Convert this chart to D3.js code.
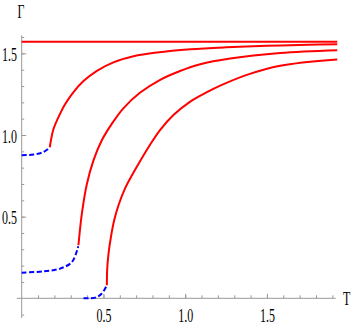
<!DOCTYPE html>
<html>
<head>
<meta charset="utf-8">
<script src="https://cdn.jsdelivr.net/npm/d3@7"></script>
<style>
  body { margin: 0; background: #fff; }
  svg { display: block; }
  text { font-family: "Liberation Serif", "DejaVu Serif", serif; }
</style>
</head>
<body>
<div id="chart"></div>
<script>
// values
var flatT = [0, 1.93],
    flatG = [1.5708, 1.5708];

var blue1T = [0, 0.072, 0.133, 0.170],
    blue1G = [0.876, 0.880, 0.896, 0.922];
var red1T = [0.172, 0.194, 0.235, 0.266, 0.317, 0.378, 0.460, 0.561, 0.684, 0.827, 1.031, 1.25, 1.50, 1.75, 1.93],
    red1G = [0.925, 1.035, 1.131, 1.190, 1.263, 1.330, 1.393, 1.445, 1.482, 1.505, 1.525, 1.537, 1.546, 1.552, 1.556];

var blue2T = [0, 0.133, 0.235, 0.307, 0.346],
    blue2G = [0.157, 0.165, 0.182, 0.222, 0.318];
var red2T = [0.347, 0.368, 0.399, 0.439, 0.490, 0.552, 0.623, 0.725, 0.847, 0.969, 1.092, 1.275, 1.581, 1.93],
    red2G = [0.325, 0.519, 0.702, 0.845, 0.968, 1.070, 1.165, 1.260, 1.338, 1.392, 1.433, 1.468, 1.502, 1.519];

var blue3T = [0.378, 0.45, 0.49, 0.521],
    blue3G = [0, 0.004, 0.029, 0.08];
var red3T = [0.521, 0.523, 0.531, 0.546, 0.566, 0.592, 0.633, 0.678, 0.723, 0.785, 0.846, 0.928, 1.031, 1.133, 1.214, 1.377, 1.581, 1.93],
    red3G = [0.08, 0.18, 0.274, 0.377, 0.479, 0.570, 0.675, 0.760, 0.838, 0.940, 1.030, 1.122, 1.204, 1.262, 1.302, 1.368, 1.424, 1.462];

var xMajor = [0.5, 1.0, 1.5],
    yMajor = [0.5, 1.0, 1.5];

var width = 354, height = 327;

var svg = d3.select('#chart').append('svg')
    .attr('width', width)
    .attr('height', height);

var x = d3.scaleLinear().domain([0, 1]).range([21.7, 185.2]);
var y = d3.scaleLinear().domain([0, 1]).range([298.3, 135]);

var axisColor = '#999';

// minor tick positions every 0.1
var xMinor = d3.range(1, 20).map(function(i) { return i / 10; }).filter(function(v) { return x(v) < 336; });
var yMinor = d3.range(-1, 17).map(function(i) { return i / 10; }).filter(function(v) { return v !== 0; });

// x axis
var gx = svg.append('g').attr('transform', 'translate(0,' + y(0) + ')');
gx.call(d3.axisBottom(x).tickValues(xMinor).tickSize(-3).tickFormat(''));
gx.select('.domain').remove();
gx.selectAll('line').attr('stroke', axisColor);
var gx2 = svg.append('g').attr('transform', 'translate(0,' + y(0) + ')');
gx2.call(d3.axisBottom(x).tickValues(xMajor).tickSize(-4.5).tickFormat(d3.format('.1f')));
gx2.select('.domain').remove();
gx2.selectAll('line').attr('stroke', axisColor);
gx2.selectAll('text')
    .attr('y', 23.5).attr('dy', null)
    .attr('fill', '#000')
    .style('font-size', '19px')
    .attr('transform', 'scale(0.63,1)');

svg.append('line')
    .attr('x1', x(-0.03)).attr('x2', 335.7)
    .attr('y1', y(0)).attr('y2', y(0))
    .attr('stroke', axisColor);

// y axis
var gy = svg.append('g').attr('transform', 'translate(' + x(0) + ',0)');
gy.call(d3.axisLeft(y).tickValues(yMinor).tickSize(-2.5).tickFormat(''));
gy.select('.domain').remove();
gy.selectAll('line').attr('stroke', axisColor);
var gy2 = svg.append('g').attr('transform', 'translate(' + x(0) + ',0)');
gy2.call(d3.axisLeft(y).tickValues(yMajor).tickSize(-4.5).tickFormat(d3.format('.1f')));
gy2.select('.domain').remove();
gy2.selectAll('line').attr('stroke', axisColor);
gy2.selectAll('text')
    .attr('x', -7.5).attr('dy', '0.38em')
    .attr('fill', '#000')
    .style('font-size', '19px')
    .attr('transform', 'scale(0.63,1)');

svg.append('line')
    .attr('x1', x(0)).attr('x2', x(0))
    .attr('y1', y(-0.12)).attr('y2', y(1.61))
    .attr('stroke', axisColor);

// axis names
svg.append('text')
    .attr('transform', 'translate(21,18) scale(0.63,1)')
    .attr('text-anchor', 'middle')
    .style('font-size', '19px')
    .text('Γ');
svg.append('text')
    .attr('transform', 'translate(343,305) scale(0.63,1)')
    .style('font-size', '19px')
    .text('T');

// curves
var line = d3.line()
    .x(function(d) { return x(d[0]); })
    .y(function(d) { return y(d[1]); })
    .curve(d3.curveCatmullRom.alpha(0.5));

function pairs(ts, gs) { return ts.map(function(t, i) { return [t, gs[i]]; }); }

var solid = [pairs(flatT, flatG), pairs(red1T, red1G), pairs(red2T, red2G), pairs(red3T, red3G)];
var dashed = [pairs(blue1T, blue1G), pairs(blue2T, blue2G), pairs(blue3T, blue3G)];

svg.selectAll('.dash').data(dashed).enter().append('path')
    .attr('class', 'dash')
    .attr('d', line)
    .attr('fill', 'none')
    .attr('stroke', '#0000ff')
    .attr('stroke-width', 2)
    .attr('stroke-dasharray', '5,2.5');

svg.selectAll('.solid').data(solid).enter().append('path')
    .attr('class', 'solid')
    .attr('d', line)
    .attr('fill', 'none')
    .attr('stroke', '#ff0000')
    .attr('stroke-width', 2);
</script>
</body>
</html>
